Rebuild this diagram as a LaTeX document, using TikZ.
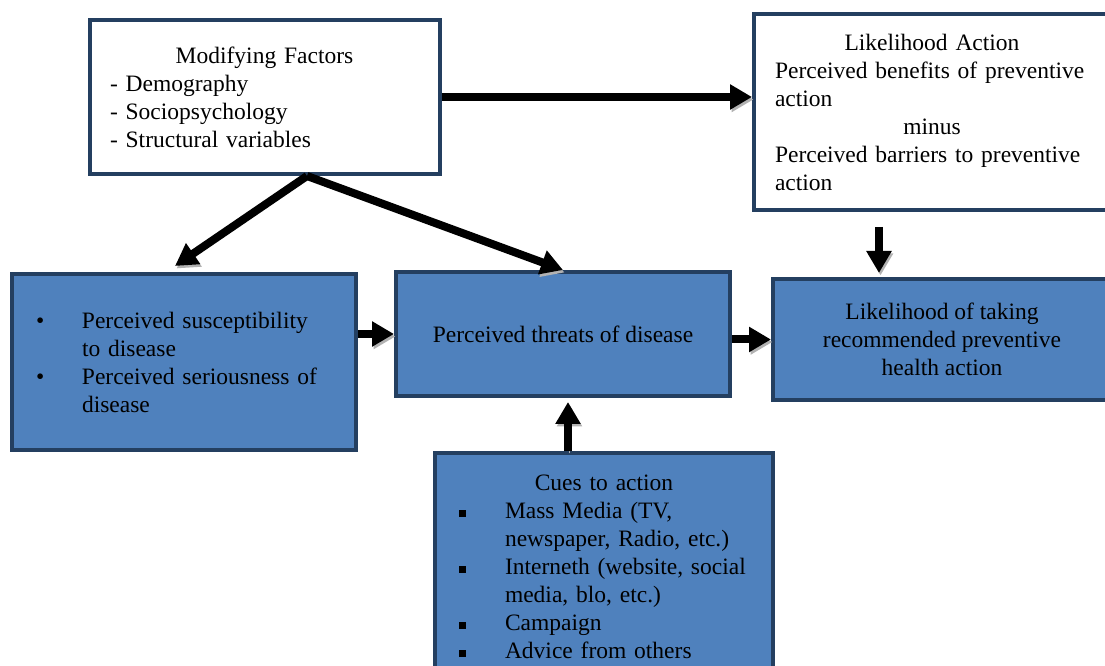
\documentclass[tikz,border=0pt]{standalone}
\usepackage{fontspec}
\setmainfont{Liberation Serif}
\usetikzlibrary{arrows.meta}
\definecolor{boxline}{HTML}{243F60}
\definecolor{boxfill}{HTML}{4F81BD}
\newcommand{\roundbullet}{\makebox[46pt][l]{\textbullet}}
\newcommand{\squarebullet}{\makebox[49pt][l]{\hspace*{3pt}\raisebox{2pt}{\rule{7pt}{7pt}}}}
\newcommand{\midline}[1]{\makebox[\hsize]{#1}}
\begin{document}
\begin{tikzpicture}[x=1pt,y=1pt]
    \tikzstyle{every node}=[font=\fontsize{23.5}{28}\selectfont]
    \tikzstyle{plainbox}=[rectangle,draw=boxline,line width=4pt,fill=white,inner sep=0pt]
    \tikzstyle{bluebox}=[plainbox,fill=boxfill]
    \tikzstyle{bigarrow}=[line width=8pt,-{Triangle[length=22pt,width=24pt]},preaction={draw=black!30,transform canvas={shift={(1.5pt,-2.5pt)}}}]
    \useasboundingbox (0,0) rectangle (1105,666);
    \node[plainbox,minimum width=350,minimum height=154,text width=309,align=left] (factors) at (264.5,569)
      {\midline{Modifying Factors}\\- Demography\\- Sociopsychology\\- Structural variables};
    \node[plainbox,minimum width=356,minimum height=196,text width=314,align=left] (likely) at (932,554)
      {\midline{Likelihood Action}\\Perceived benefits of preventive\\action\\\midline{minus}\\Perceived barriers to preventive\\action};
    \node[bluebox,minimum width=344,minimum height=176,text width=296,align=left] (susc) at (184,304)
      {\roundbullet Perceived susceptibility\\\hspace*{46pt}to disease\\\roundbullet Perceived seriousness of\\\hspace*{46pt}disease};
    \node[bluebox,minimum width=334,minimum height=124] (threat) at (563,332)
      {Perceived threats of disease};
    \node[bluebox,minimum width=338,minimum height=121,align=center] (action) at (942,326.5)
      {Likelihood of taking\\recommended preventive\\health action};
    \node[bluebox,minimum width=338,minimum height=228,text width=296,align=left] (cues) at (604,99)
      {\midline{Cues to action}\\\squarebullet Mass Media (TV,\\\hspace*{49pt}newspaper, Radio, etc.)\\\squarebullet Interneth (website, social\\\hspace*{49pt}media, blo, etc.)\\\squarebullet Campaign\\\squarebullet Advice from others};
    \coordinate (fork) at ([xshift=42.5pt]factors.south);
    \draw[bigarrow] (factors.east) -- (factors.east -| likely.west);
    \draw[bigarrow] (fork) -- ([shift={(-9pt,6pt)}]susc.north);
    \draw[bigarrow] (fork) -- (threat.north);
    \draw[bigarrow] (susc.east |- threat.west) -- (threat.west);
    \draw[bigarrow] (threat.east |- action.west) -- (action.west);
    \draw[bigarrow] ([shift={(-53pt,-15pt)}]likely.south) -- ([shift={(-63pt,4pt)}]action.north);
    \draw[bigarrow] ([xshift=-36pt]cues.north) -- ([shift={(-36pt,-4pt)}]cues.north |- threat.south);
\end{tikzpicture}
\end{document}
